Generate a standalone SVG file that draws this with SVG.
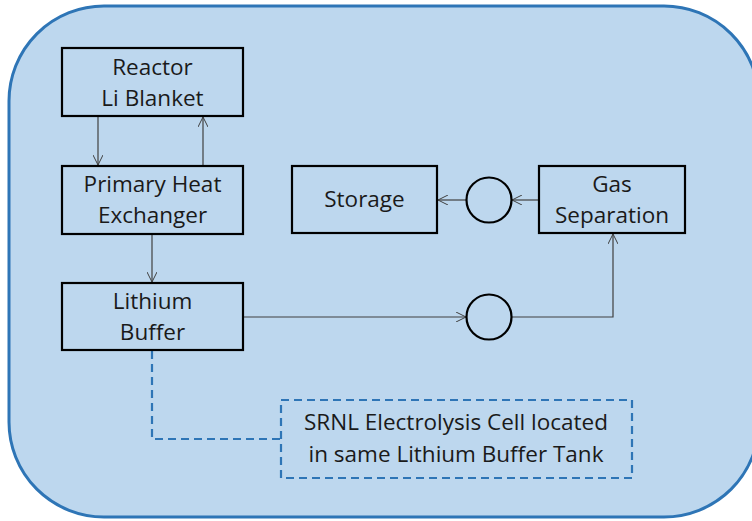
<svg xmlns="http://www.w3.org/2000/svg" width="752" height="521" viewBox="0 0 752 521">
<defs>
<marker id="arr" viewBox="0 0 10 10" refX="10" refY="5" markerWidth="10" markerHeight="10" markerUnits="userSpaceOnUse" orient="auto">
<path d="M0,0 L10,5 L0,10" fill="none" stroke="#404040" stroke-width="1"/>
</marker>
</defs>
<style>
.box{fill:none;stroke:#000;stroke-width:2.2}
.t{font-family:"Open Sans","Noto Sans",sans-serif;font-size:22.5px;fill:#1a1a1a;text-anchor:middle}
.c{fill:none;stroke:#404040;stroke-width:1.2;marker-end:url(#arr)}
.dash{fill:none;stroke:#2E75B6;stroke-width:2.2;stroke-dasharray:8 5}
</style>
<rect x="9" y="6" width="750" height="511" rx="95" ry="95" fill="#BDD7EE" stroke="#2E75B6" stroke-width="3"/>
<g id="connectors">
<line class="c" x1="98" y1="116" x2="98" y2="165"/>
<line class="c" x1="203" y1="166" x2="203" y2="117"/>
<line class="c" x1="152" y1="234" x2="152" y2="282"/>
<line class="c" x1="243" y1="317" x2="466" y2="317"/>
<polyline class="c" points="512,317 613,317 613,234"/>
<line class="c" x1="539" y1="200" x2="512" y2="200"/>
<line class="c" x1="466" y1="200" x2="438" y2="200"/>
<polyline class="dash" points="152,351 152,439 281,439"/>
</g>
<g id="reactor">
<rect class="box" x="62" y="48" width="181" height="68"/>
<text class="t" x="152.5" y="75">Reactor</text>
<text class="t" x="152.5" y="106">Li Blanket</text>
</g>
<g id="phe">
<rect class="box" x="62" y="166" width="181" height="68"/>
<text class="t" x="152.5" y="192">Primary Heat</text>
<text class="t" x="152.5" y="223">Exchanger</text>
</g>
<g id="lithium">
<rect class="box" x="62" y="283" width="181" height="67"/>
<text class="t" x="152.5" y="309">Lithium</text>
<text class="t" x="152.5" y="340">Buffer</text>
</g>
<g id="storage">
<rect class="box" x="292" y="166" width="145" height="67"/>
<text class="t" x="364.5" y="207">Storage</text>
</g>
<g id="gassep">
<rect class="box" x="539" y="166" width="146" height="67"/>
<text class="t" x="612" y="192">Gas</text>
<text class="t" x="612" y="223">Separation</text>
</g>
<g id="pump1">
<circle cx="489" cy="200" r="22.5" fill="none" stroke="#000" stroke-width="2.2"/>
</g>
<g id="pump2">
<circle cx="489" cy="317" r="22.5" fill="none" stroke="#000" stroke-width="2.2"/>
</g>
<g id="srnl">
<rect class="dash" x="281" y="400" width="351" height="78"/>
<text class="t" x="456" y="430">SRNL Electrolysis Cell located</text>
<text class="t" x="456" y="462">in same Lithium Buffer Tank</text>
</g>
</svg>
